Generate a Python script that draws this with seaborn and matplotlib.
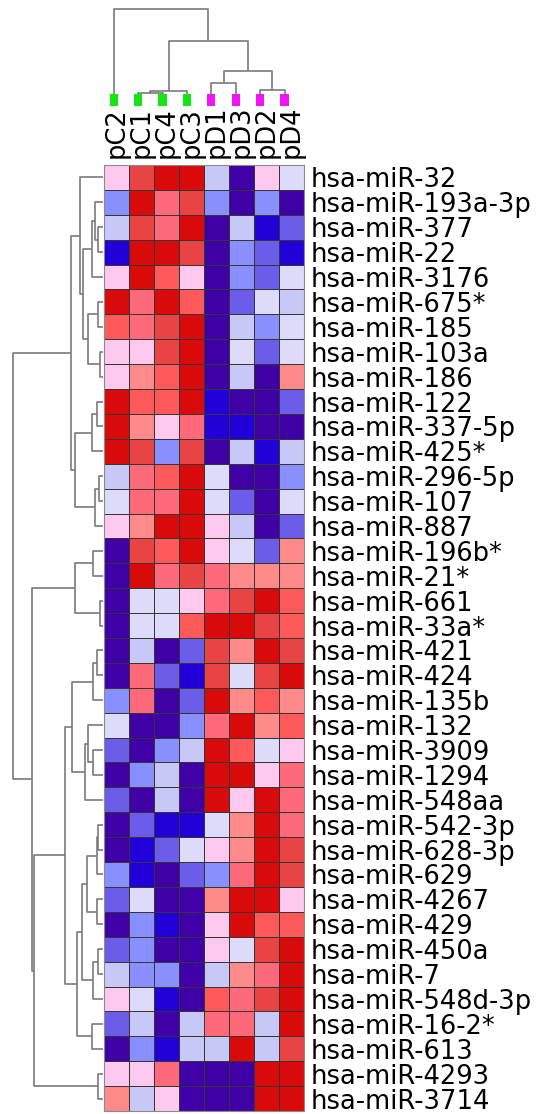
import numpy as np
import pandas as pd
import seaborn as sns
import matplotlib
matplotlib.use("Agg")
import matplotlib.pyplot as plt
from matplotlib.colors import ListedColormap

# ---------------- data ----------------
samples = ["pC2", "pC1", "pC4", "pC3", "pD1", "pD3", "pD2", "pD4"]
groups = ["C", "C", "C", "C", "D", "D", "D", "D"]
group_colors = {"C": "#14e614", "D": "#f014f0"}

mirnas = ["hsa-miR-32", "hsa-miR-193a-3p", "hsa-miR-377", "hsa-miR-22", "hsa-miR-3176",
          "hsa-miR-675*", "hsa-miR-185", "hsa-miR-103a", "hsa-miR-186", "hsa-miR-122",
          "hsa-miR-337-5p", "hsa-miR-425*", "hsa-miR-296-5p", "hsa-miR-107", "hsa-miR-887",
          "hsa-miR-196b*", "hsa-miR-21*", "hsa-miR-661", "hsa-miR-33a*", "hsa-miR-421",
          "hsa-miR-424", "hsa-miR-135b", "hsa-miR-132", "hsa-miR-3909", "hsa-miR-1294",
          "hsa-miR-548aa", "hsa-miR-542-3p", "hsa-miR-628-3p", "hsa-miR-629", "hsa-miR-4267",
          "hsa-miR-429", "hsa-miR-450a", "hsa-miR-7", "hsa-miR-548d-3p", "hsa-miR-16-2*",
          "hsa-miR-613", "hsa-miR-4293", "hsa-miR-3714"]

# z-scores per sample (rows in miRNA order above)
pC2 = [0.5, -1.5, -1, -2.5, 0.5, 3, 2, 0.5, 0.5, 3, 3, 3, -1, -0.5, 0.5, -3, -3, -3, -3,
       -3, -3, -1.5, -0.5, -2, -3, -2, -3, -3, -1.5, -2, -3, -2, -1, 0.5, -2, -3, 0.5, 1]
pC1 = [2.5, 3, 2.5, 3, 3, 1.5, 1.5, 0.5, 1, 2, 1, 2.5, 1.5, 1.5, 1, 2.5, 3, -0.5, -0.5,
       -1, 1.5, 1.5, -3, -3, -1.5, -3, -2, -2.5, -2.5, -0.5, -1.5, -1.5, -1.5, -0.5, -1, -1.5, 0.5, -1]
pC4 = [3, 1.5, 1.5, 3, 2, 3, 2.5, 2.5, 2, 2, 0.5, -1.5, 2, 1.5, 3, 2, 1.5, -0.5, -0.5,
       -3, -2, -3, -3, -1.5, -1, -1, -2.5, -2, -3, -3, -2.5, -3, -1.5, -2.5, -3, -2.5, 1.5, 0.5]
pC3 = [3, 2.5, 3, 2.5, 0.5, 2, 3, 3, 3, 3, 1.5, 2.5, 3, 3, 3, 3, 2.5, 0.5, 2,
       -2, -2.5, -2, -1.5, -1, -3, -3, -2.5, -0.5, -2, -3, -3, -3, -3, -3, -1, -1, -3, -3]
pD1 = [-1, -1.5, -3, -3, -3, -3, -3, -3, -3, -2.5, -2.5, -3, -0.5, -0.5, 0.5, 0.5, 1.5, 1.5, 3,
       2.5, 2.5, 3, 1.5, 3, 3, 3, -0.5, 0.5, -1.5, 1, 0.5, 0.5, -1, 2, 1.5, -1, -3, -3]
pD3 = [-3, -3, -1, -1.5, -1.5, -2, -1, -0.5, -1, -3, -2.5, -1, -3, -2, -1, -0.5, 1, 2.5, 3,
       1, -0.5, 1, 3, 2, 3, 0.5, 1, 1, 1.5, 3, 3, -0.5, 1, 1.5, 1.5, 3, -3, -3]
pD2 = [0.5, -1.5, -2.5, -2, -2, -0.5, -1.5, -2, -3, -3, -3, -2.5, -3, -3, -3, -2, 1, 3, 2.5,
       3, 2.5, 2, 1, -0.5, 0.5, 3, 3, 3, 3, 3, 2, 2.5, 1.5, 2.5, -1, -1, 3, 3]
pD4 = [-0.5, -3, -2, -2.5, -0.5, -1, -0.5, -0.5, 1, -2, -3, -1, -1.5, -0.5, -2, 1, 1, 2, 2,
       2.5, 3, 1, 2, 0.5, 1.5, 1.5, 1.5, 2.5, 2.5, 0.5, 2, 3, 3, 3, 3, 2.5, 3, 3]

# hierarchical merges: (left, right, height); leaves numbered in display order
row_merges = [(2, 3, 4.7), (1, 38, 8.0), (39, 4, 11.3), (5, 6, 4.7), (7, 8, 3.0),
              (41, 42, 14.7), (40, 43, 20.3), (0, 44, 23.0), (9, 10, 6.3), (46, 11, 11.3),
              (12, 13, 3.7), (48, 14, 8.0), (47, 49, 28.0), (45, 50, 32.0), (15, 16, 9.7),
              (17, 18, 3.0), (52, 53, 28.0), (19, 20, 5.5), (55, 21, 9.7), (23, 24, 9.7),
              (22, 57, 14.7), (58, 25, 18.0), (56, 59, 31.3), (26, 27, 4.7), (61, 28, 6.3),
              (29, 30, 6.3), (62, 63, 15.7), (31, 32, 4.7), (65, 33, 10.3), (64, 66, 21.3),
              (34, 35, 11.0), (67, 68, 26.3), (60, 69, 38.0), (36, 37, 4.7), (70, 71, 69.5),
              (54, 72, 71.0), (51, 73, 90.3)]
col_merges = [(1, 2, 1.6), (8, 3, 3.6), (4, 5, 11.0), (6, 7, 4.3), (10, 11, 23.6),
              (9, 12, 53.3), (0, 13, 85.3)]

# ---------------- figure ----------------
W, H = 536, 1114
fig = plt.figure(figsize=(W / 100, H / 100), dpi=100)


def ax_px(x0, y0, x1, y1):
    return fig.add_axes([x0 / W, 1 - y1 / H, (x1 - x0) / W, (y1 - y0) / H])


palette = ["#3f00a6", "#2200d8", "#6b5ce9", "#8890ff", "#c8c8f8", "#dcdcfa",
           "#ffffff", "#ffc8ee", "#ff8a8a", "#ff6a7a", "#ff5a5a", "#e84444", "#d80a0a"]
cmap = ListedColormap(palette)

df = pd.DataFrame({"pC2": pC2, "pC1": pC1, "pC4": pC4, "pC3": pC3,
                   "pD1": pD1, "pD3": pD3, "pD2": pD2, "pD4": pD4}, index=mirnas)[samples]

ax_heat = ax_px(104, 165, 304, 1111)
sns.heatmap(df, ax=ax_heat, cmap=cmap, vmin=-3.25, vmax=3.25, cbar=False,
            linewidths=0.6, linecolor="#353535", xticklabels=samples, yticklabels=mirnas)
ax_heat.set_xlabel("")
ax_heat.set_ylabel("")
ax_heat.xaxis.tick_top()
ax_heat.yaxis.tick_right()
ax_heat.set_xticklabels(samples, rotation=90, fontsize=18.5)
ax_heat.set_yticklabels(mirnas, rotation=0, fontsize=18.5)
ax_heat.tick_params(axis="both", length=0, pad=5)
for s in ax_heat.spines.values():
    s.set_visible(True)
    s.set_color("#8a8a8a")
    s.set_linewidth(0.8)


def dendro_segments(n, merges):
    pos = {i: i + 0.5 for i in range(n)}
    hgt = {i: 0.0 for i in range(n)}
    segs = []
    for k, (a, b, h) in enumerate(merges):
        segs.append(([hgt[a], h, h, hgt[b]], [pos[a], pos[a], pos[b], pos[b]]))
        pos[n + k] = (pos[a] + pos[b]) / 2
        hgt[n + k] = h
    return segs


line_kw = dict(color="#7a7a7a", lw=1.2, solid_capstyle="butt")

# row dendrogram
ax_rd = ax_px(0, 165, 103, 1111)
for hs, ps in dendro_segments(len(mirnas), row_merges):
    ax_rd.plot(hs, ps, **line_kw)
ax_rd.set_xlim(103, 0)
ax_rd.set_ylim(len(mirnas), 0)
ax_rd.axis("off")

# column dendrogram
ax_cd = ax_px(101.5, 0, 296.7, 94.3)
for hs, ps in dendro_segments(len(samples), col_merges):
    ax_cd.plot(ps, hs, **line_kw)
ax_cd.set_xlim(0, len(samples))
ax_cd.set_ylim(0, 94.3)
ax_cd.axis("off")

# group colour boxes
ax_cc = ax_px(101.5, 94.3, 296.7, 106)
ax_cc.bar(np.arange(len(samples)) + 0.5, [1] * len(samples), width=0.33,
          color=[group_colors[g] for g in groups])
ax_cc.set_xlim(0, len(samples))
ax_cc.set_ylim(0, 1)
ax_cc.axis("off")

fig.savefig("out.png", dpi=100)
